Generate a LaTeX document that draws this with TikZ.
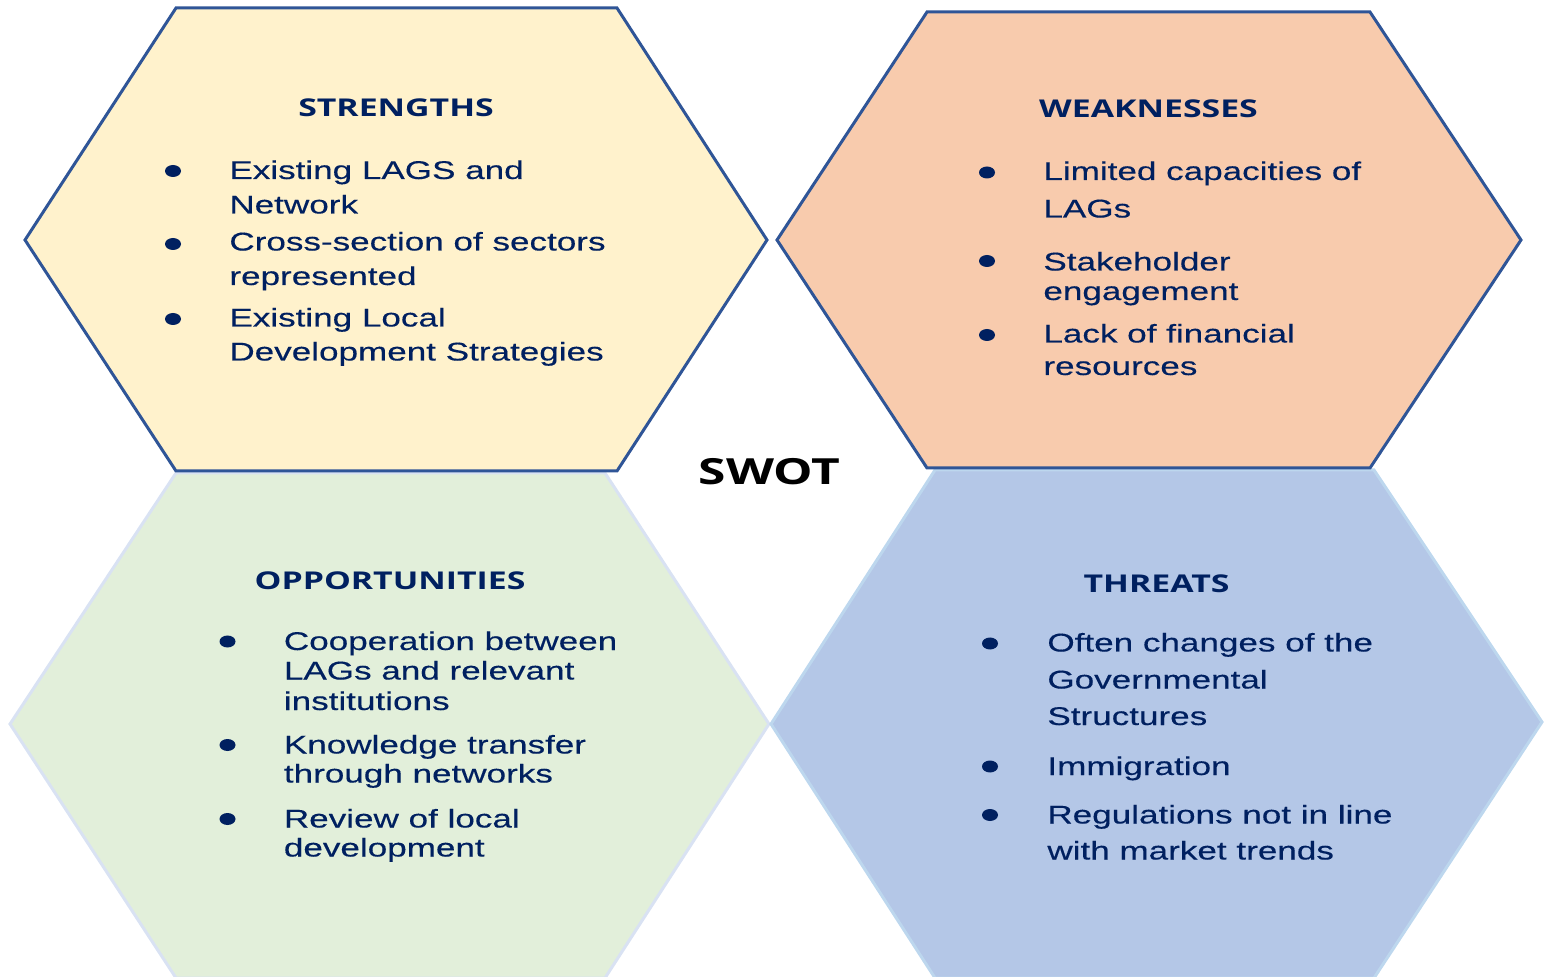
\documentclass[tikz,border=0pt]{standalone}
\usepackage{fontspec}
\usetikzlibrary{shapes.geometric}
\newfontfamily\bodyf{Liberation Sans}[FakeStretch=1.37,FakeBold=0.3]
\newfontfamily\headf{Open Sans}[FakeStretch=1.38]
\definecolor{navy}{HTML}{002060}
\definecolor{hexblue}{HTML}{2F5597}
\definecolor{sfill}{HTML}{FFF2CC}
\definecolor{wfill}{HTML}{F8CBAD}
\definecolor{ofill}{HTML}{E2EFDA}
\definecolor{tfill}{HTML}{B4C7E7}
\definecolor{oline}{HTML}{D9E2F3}
\definecolor{tline}{HTML}{BDD7EE}
\begin{document}
\begin{tikzpicture}[x=0.5pt,y=-0.5pt,
  item/.style={anchor=base west,inner sep=0pt,text=navy,font=\bodyf\fontsize{12.8}{15}\selectfont},
  head/.style={anchor=base,inner sep=0pt,text=navy,font=\headf\bfseries\fontsize{12.25}{15}\selectfont},
  bul/.style={ellipse,fill=navy,inner sep=0pt,minimum width=8pt,minimum height=6pt},
  tophex/.style={draw=hexblue,line width=1.5pt,line join=miter},
  bothex/.style={line width=1.5pt,line join=miter}]
\useasboundingbox (0,0) rectangle (1546,977);
\begin{scope}
\clip (0,0) rectangle (1546,977);
% bottom hexagons
\filldraw[bothex,fill=ofill,draw=oline] (176,473) -- (605,473) -- (769,724) -- (605,978) -- (176,978) -- (10,724) -- cycle;
\filldraw[bothex,fill=tfill,draw=tline] (935,470) -- (1374,470) -- (1542,722) -- (1374,978) -- (935,978) -- (771,724) -- cycle;
% top hexagons
\filldraw[tophex,fill=sfill] (176,8) -- (617,8) -- (767,240) -- (617,471) -- (176,471) -- (25,240) -- cycle;
\filldraw[tophex,fill=wfill] (927,12) -- (1370,12) -- (1521,240) -- (1370,468) -- (927,468) -- (777,240) -- cycle;
\end{scope}

\node[anchor=base,inner sep=0pt,font=\headf\bfseries\fontsize{18}{20}\selectfont] (swot) at (769.5,485) {SWOT};

% Strengths
\node[head] (sh) at (396,117) {STRENGTHS};
\node[bul] (sb1) at (173,171) {};
\node[item] (s1a) at (229,179) {Existing LAGS and};
\node[item] (s1b) at (229,213.5) {Network};
\node[bul] (sb2) at (173,244) {};
\node[item] (s2a) at (229,250.5) {Cross-section of sectors};
\node[item] (s2b) at (229,285) {represented};
\node[bul] (sb3) at (173,319) {};
\node[item] (s3a) at (229,326.5) {Existing Local};
\node[item] (s3b) at (229,360.5) {Development Strategies};

% Weaknesses
\node[head] (wh) at (1148.5,118) {WEAKNESSES};
\node[bul] (wb1) at (987,172.5) {};
\node[item] (w1a) at (1043,180) {Limited capacities of};
\node[item] (w1b) at (1043,217.5) {LAGs};
\node[bul] (wb2) at (987,261) {};
\node[item] (w2a) at (1043,270.5) {Stakeholder};
\node[item] (w2b) at (1043,300) {engagement};
\node[bul] (wb3) at (987,335) {};
\node[item] (w3a) at (1043,342.5) {Lack of financial};
\node[item] (w3b) at (1043,375) {resources};

% Opportunities
\node[head] (oh) at (390,590) {OPPORTUNITIES};
\node[bul] (ob1) at (227.5,641.5) {};
\node[item] (o1a) at (283.5,650) {Cooperation between};
\node[item] (o1b) at (283.5,679.5) {LAGs and relevant};
\node[item] (o1c) at (283.5,710) {institutions};
\node[bul] (ob2) at (227.5,745) {};
\node[item] (o2a) at (283.5,753.5) {Knowledge transfer};
\node[item] (o2b) at (283.5,782.5) {through networks};
\node[bul] (ob3) at (227.5,819) {};
\node[item] (o3a) at (283.5,827.5) {Review of local};
\node[item] (o3b) at (283.5,856.5) {development};

% Threats
\node[head] (th) at (1156.5,592.5) {THREATS};
\node[bul] (tb1) at (990,643.5) {};
\node[item] (t1a) at (1047,651.5) {Often changes of the};
\node[item] (t1b) at (1047,688.5) {Governmental};
\node[item] (t1c) at (1047,725) {Structures};
\node[bul] (tb2) at (990,766.5) {};
\node[item] (t2a) at (1047,775) {Immigration};
\node[bul] (tb3) at (990,815) {};
\node[item] (t3a) at (1047,823.5) {Regulations not in line};
\node[item] (t3b) at (1047,859.5) {with market trends};
\end{tikzpicture}
\end{document}
